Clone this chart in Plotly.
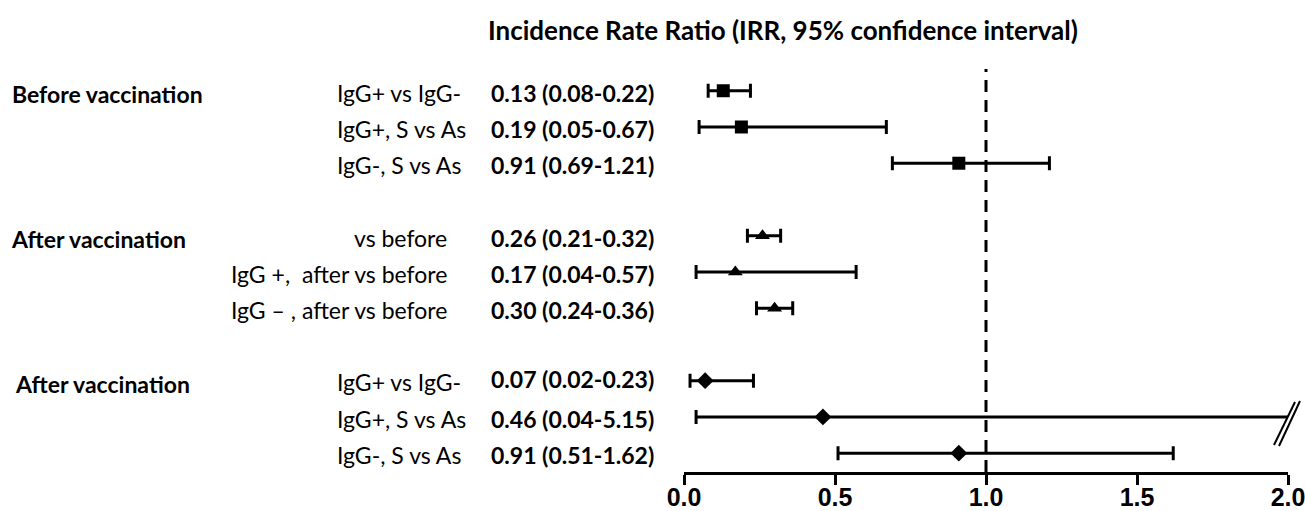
import plotly.graph_objects as go

# ---- data ----
groups = ["Before vaccination", "After vaccination", "After vaccination"]
group_rows = [0, 3, 6]  # index of the first row of each group
labels = ["IgG+ vs IgG-", "IgG+, S vs As", "IgG-, S vs As",
          "vs before", "IgG +,\u00a0 after vs before", "IgG \u2013 , after vs before",
          "IgG+ vs IgG-", "IgG+, S vs As", "IgG-, S vs As"]
irr = [0.13, 0.19, 0.91, 0.26, 0.17, 0.30, 0.07, 0.46, 0.91]
lo = [0.08, 0.05, 0.69, 0.21, 0.04, 0.24, 0.02, 0.04, 0.51]
hi = [0.22, 0.67, 1.21, 0.32, 0.57, 0.36, 0.23, 5.15, 1.62]
tick_vals = [0.0, 0.5, 1.0, 1.5, 2.0]
tick_text = ["0.0", "0.5", "1.0", "1.5", "2.0"]
title = "Incidence Rate Ratio (IRR, 95% confidence interval)"
ref_line = 1.0
x_max = 2.0

# ---- layout helpers ----
W, H = 1305, 511
ML, MR, MT, MB = 684, W - 1288, 69, 511 - 472
row_pos = [0, 1, 2, 4, 5, 6, 8, 9, 10]
symbols = ["square", "square", "square",
           "triangle-up", "triangle-up", "triangle-up",
           "diamond", "diamond", "diamond"]
sizes = [13] * 3 + [13] * 3 + [13] * 3

def px_to_paper_x(px):
    return (px - ML) / (W - ML - MR)

def px_to_paper_y(py):
    return (H - MB - py) / (H - MT - MB)

TEXT_FONT = "Lato"
FS = 23
fig = go.Figure()

for g in range(3):
    idx = list(range(g * 3, g * 3 + 3))
    xs = [irr[i] for i in idx]
    ys = [row_pos[i] for i in idx]
    plus = [hi[i] - irr[i] for i in idx]
    minus = [irr[i] - lo[i] for i in idx]
    fig.add_trace(go.Scatter(
        x=xs, y=ys, mode="markers",
        marker=dict(symbol=symbols[idx[0]], size=sizes[idx[0]], color="black"),
        error_x=dict(type="data", array=plus, arrayminus=minus, symmetric=False,
                     color="black", thickness=3, width=7),
        showlegend=False, hoverinfo="x+y",
    ))

annotations = []
# title
annotations.append(dict(xref="paper", yref="paper", x=px_to_paper_x(783), y=px_to_paper_y(30),
                        text="<b>" + title + "</b>", showarrow=False,
                        font=dict(family=TEXT_FONT, size=26, color="black"),
                        xanchor="center", yanchor="middle"))
# group labels
group_x = [10, 9, 13]
for g, name in enumerate(groups):
    r = group_rows[g]
    annotations.append(dict(xref="paper", yref="y", x=px_to_paper_x(group_x[g]), y=row_pos[r] + 0.08,
                            text="<b>" + name + "</b>", showarrow=False,
                            font=dict(family=TEXT_FONT, size=FS, color="black"),
                            xanchor="left", yanchor="middle"))
# row labels and values
for i, lab in enumerate(labels):
    if 3 <= i < 6:
        ax, anc = 449, "right"
    else:
        ax, anc = 335, "left"
    annotations.append(dict(xref="paper", yref="y", x=px_to_paper_x(ax), y=row_pos[i] + 0.05,
                            text=lab, showarrow=False,
                            font=dict(family=TEXT_FONT, size=FS, color="black"),
                            xanchor=anc, yanchor="middle"))
    val = f"{irr[i]:.2f} ({lo[i]:.2f}-{hi[i]:.2f})"
    annotations.append(dict(xref="paper", yref="y", x=px_to_paper_x(489),
                            y=row_pos[i] + (-0.04 if i == 6 else 0.05),
                            text="<b>" + val + "</b>", showarrow=False,
                            font=dict(family=TEXT_FONT, size=FS, color="black"),
                            xanchor="left", yanchor="middle"))

shapes = [
    dict(type="line", xref="x", yref="paper", x0=ref_line, x1=ref_line, y0=0, y1=1,
         line=dict(color="black", width=3, dash="12px,8px")),
    # axis-break marks
    dict(type="line", xref="paper", yref="paper",
         x0=px_to_paper_x(1274), y0=px_to_paper_y(445), x1=px_to_paper_x(1295), y1=px_to_paper_y(402),
         line=dict(color="black", width=2)),
    dict(type="line", xref="paper", yref="paper",
         x0=px_to_paper_x(1279), y0=px_to_paper_y(446), x1=px_to_paper_x(1300), y1=px_to_paper_y(401),
         line=dict(color="black", width=2)),
]

fig.update_layout(
    width=W, height=H,
    margin=dict(l=ML, r=MR, t=MT, b=MB, autoexpand=False),
    paper_bgcolor="white", plot_bgcolor="white",
    annotations=annotations, shapes=shapes,
    xaxis=dict(range=[0, x_max], tickvals=tick_vals, ticktext=tick_text,
               showgrid=False, zeroline=False, showline=True, linecolor="black", linewidth=3,
               ticks="outside", ticklen=10, tickwidth=3, tickcolor="black", automargin=False,
               ticklabelstandoff=-9, ticklabeloverflow="allow",
               tickfont=dict(family="Liberation Sans", size=25, color="black", weight="bold")),
    yaxis=dict(range=[10.52, -0.6], visible=False, showgrid=False, zeroline=False),
)

fig.write_html("out.html", config={"displayModeBar": False},
               post_script="document.body.style.margin='0';")
